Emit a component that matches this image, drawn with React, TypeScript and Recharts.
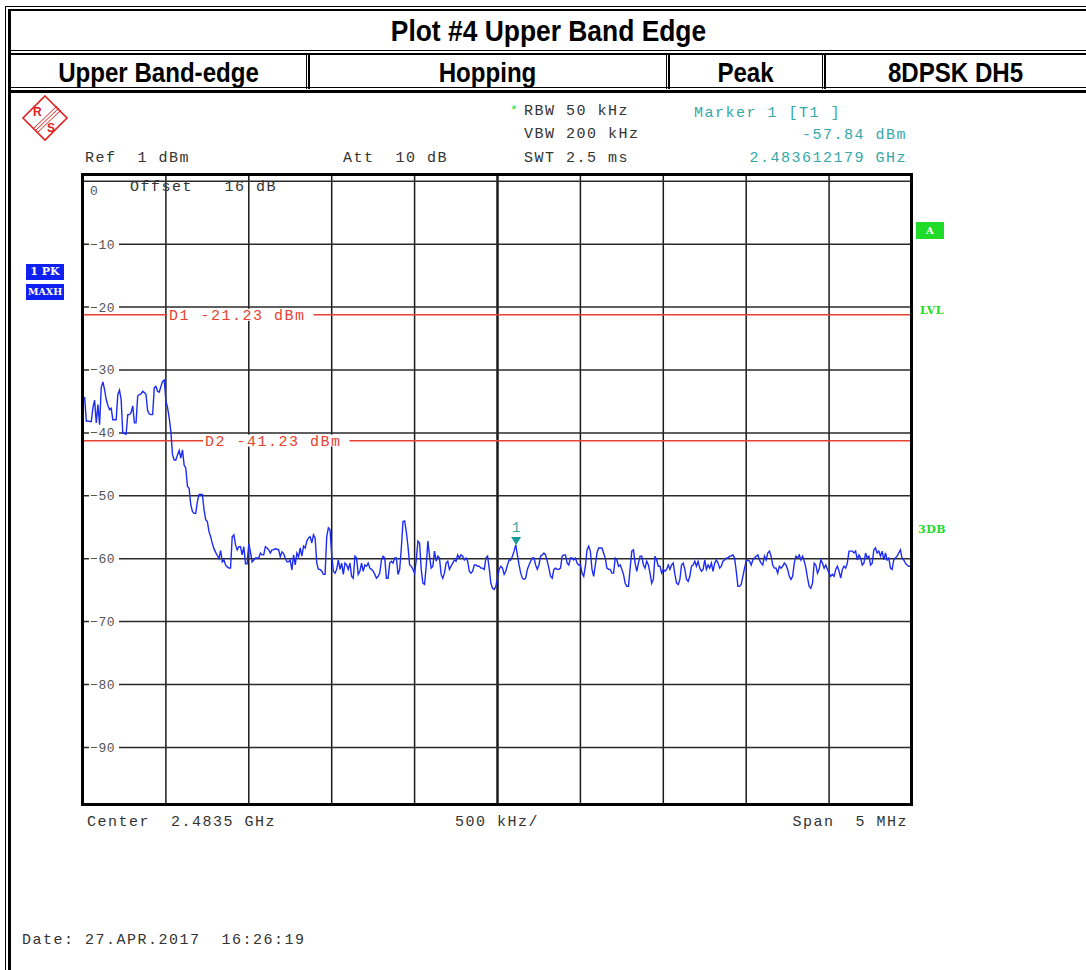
import { LineChart, Line, XAxis, YAxis, ReferenceLine, ReferenceDot } from 'recharts'

// sweep: centre 2.4835 GHz, span 5 MHz, 501 points
const START_MHZ = 2481
const SPAN_MHZ = 5

// trace 1 (PK / MAXH), dBm per sweep point
const levelsDbm = [
  -34.4, -34.4, -38.1, -38.1, -38.2, -38.2, -36, -34.8, -38.4, -35.5,
  -38.7, -32.8, -31.9, -33.1, -34.7, -35.6, -36.3, -36.1, -37.9, -37.9,
  -37.9, -33.9, -33.2, -34.7, -40, -40.1, -40.2, -37.1, -37.1, -36.8,
  -35.7, -38.4, -38.4, -34.1, -33.9, -33.8, -33.4, -33.6, -33.9, -36.5,
  -37, -37.1, -37.1, -32.8, -32.6, -33.4, -33.5, -32.6, -31.8, -31.6,
  -34.9, -36, -37.6, -39.8, -43.5, -44.3, -44.3, -43.5, -42.8, -44,
  -42.7, -45.1, -45.6, -48.5, -48.8, -51.4, -52.5, -52.8, -52.8, -50.9,
  -49.8, -49.8, -49.8, -52.2, -53.8, -54.1, -55.7, -56.5, -57.6, -58.4,
  -59, -59.5, -60, -58.7, -60.5, -60.2, -61, -61.3, -61.5, -61.5,
  -56.5, -56.2, -57.8, -58.6, -58.1, -58.1, -59.4, -58.1, -60.8, -60.8,
  -57.6, -58.9, -60.5, -60.2, -59.9, -59.9, -59.9, -59.1, -59.4, -59.4,
  -58.1, -58.3, -58.6, -59.1, -58.6, -58.6, -58.4, -58.5, -58.6, -59.7,
  -58.9, -59.2, -59.9, -60.5, -60.5, -60.2, -61.8, -59.4, -61, -59.1,
  -59.7,
  -58.3, -59.6, -58, -58.3, -57.2, -56.7, -56.5, -57.5, -56.2, -56.7,
  -60.7, -61.7, -61.7, -62, -62.5, -62.5, -56.5, -55.1, -55.4, -59.4,
  -62, -62.3, -61.7, -60.2, -61.7, -60.7, -62.5, -60.7, -61, -61.7,
  -60.7, -62.8, -63.1, -59.6, -59.9, -62.5, -62, -60.7, -62, -61,
  -61.2, -60.7, -61.5, -61.7, -62, -62.5, -63.1, -62.8, -62.3, -60.2,
  -59.6, -59.9, -63.1, -63.1, -60.7, -60.4, -60.7, -59.9, -59.9, -62.5,
  -61.7, -58.3, -54.1, -54, -55.7, -58, -61, -61.2, -61.7, -62.3,
  -60.2, -57.2, -57.5, -61.7, -63.9, -64.1, -61.2, -57.2, -59.6, -61.5,
  -61.2, -58.8, -60.4, -59.6, -59.9, -62.5, -63.1, -62.3, -60.7, -60.4,
  -61.7, -61.2, -60.7, -60.2, -60.4, -59.4, -59.9, -59.4, -59.6, -60.2,
  -59.9, -60.4, -62, -62.3, -62, -61, -61, -61.2, -61.2, -61.5,
  -61.5, -61.7, -59.9, -59.6, -61.5, -63.9, -64.7, -64.9, -64.4, -63.1,
  -61.7, -61.2, -61.5, -62.5, -62, -61, -60.2, -60.2, -59.6, -58.8,
  -57.8, -59.4, -61, -62.3, -63.1, -63.3, -63.1, -61.7, -61, -60.4,
  -59.9, -59.9, -61, -61.7, -61, -59.6, -59.4, -59.1, -59.4, -60.4,
  -61.5, -62.8, -63.1, -61.7, -61.5, -61.7, -61.7, -61.5, -59.6, -59.4,
  -59.4, -60.7, -61, -59.9, -59.9, -60.2, -59.9, -60.7, -61, -61,
  -62.3, -62.8, -61.2, -58.6, -58, -58.8, -61.7, -62.8, -61, -59.1,
  -58.3,
  -58.3, -58.3, -59.1, -59.9, -61.5, -61.7, -61.7, -62.3, -62.3, -59.9,
  -60.2, -61.2, -61, -61.7, -62.5, -63.9, -64.4, -64.4, -61.5, -58.8,
  -58.6, -60.7, -62, -60.7, -59.6, -59.6, -61, -61.5, -60.4, -61,
  -62.3, -63.9, -63.3, -59.6, -60.2, -61.2, -61.2, -62.3, -61.7, -62,
  -61.7, -61, -61.7, -61, -60.7, -62.5, -63.9, -64.1, -63.3, -61,
  -60.7, -61.7, -63.3, -63.6, -62.8, -61.2, -61, -60.4, -61.2, -60.4,
  -61.5, -62, -61.7, -60.2, -61.7, -61, -61.5, -60.7, -62, -60.7,
  -60.2, -60.7, -61.5, -61.2, -60.4, -60.2, -59.9, -59.9, -59.6, -59.6,
  -59.4, -59.9, -62, -64.4, -64.4, -64.1, -62.8, -61.5, -60.4, -60.2,
  -60.4, -61, -60.2, -59.9, -59.6, -59.4, -60.2, -60.7, -61, -59.6,
  -60.2, -59.1, -58.8, -59.6, -61, -61.5, -61.5, -62.3, -61.2, -61.5,
  -61.2, -60.7, -61, -61.7, -62.8, -63.3, -62.8, -60.7, -59.6, -59.9,
  -59.4, -60.2, -59.6, -60.4, -61.5, -63.1, -64.4, -64.7, -63.9, -60.7,
  -61, -62.3, -61.7, -60.2, -60.7, -61.5, -61, -61.7, -62.3, -62.8,
  -62.5, -62.8, -61.7, -61.2, -62, -63.1, -61.7, -61.2, -61.5, -60.7,
  -58.8, -58.8, -58.8, -59.1, -58.8, -60.2, -59.4, -59.9, -61, -60.7,
  -59.1, -59.9, -59.6, -61, -60.7, -58.6, -58.3, -59.1, -58.8, -59.6,
  -58.8, -60.2, -59.1, -60.2, -59.9, -61.5, -61.7, -60.2, -59.9, -59.6,
  -59.1, -58.6, -59.9, -60.2, -60.7, -61, -61.2, -61.2, -61.5,
]

const freqGridMHz = [2481.5, 2482, 2482.5, 2483, 2483.5, 2484, 2484.5, 2485, 2485.5]
const levelGridDbm = [0, -10, -20, -30, -40, -50, -60, -70, -80, -90]

const displayLineNames = ['D1', 'D2']
const displayLineDbm = [-21.23, -41.23]

const markerFreqMHz = 2483.612179
const markerLevelDbm = -57.84

const data = levelsDbm.map((level, i) => ({
  f: START_MHZ + (i * SPAN_MHZ) / (levelsDbm.length - 1),
  level,
}))

const MONO = '"Liberation Mono", "Courier New", monospace'
const NARROW = '"Liberation Sans Narrow", "Liberation Sans", Arial, sans-serif'
const RED = '#e8412f'
const TEAL = '#35a8a8'
const GREEN = '#1fdc2a'

const GridLabel = ({ viewBox, text, dy }: any) => {
  const { x, y } = viewBox
  return (
    <g>
      <rect x={x + 6} y={y + dy - 6} width={text.length * 9 + 3} height={12} fill="#fff" />
      <text x={x + 7} y={y + dy + 4.5} fontFamily={MONO} fontSize={13} letterSpacing={0.6} fill="#555">
        {text}
      </text>
    </g>
  )
}

const DisplayLabel = ({ viewBox, text, shift }: any) => {
  const { x, y } = viewBox
  const w = text.length * 10.5 + 10
  return (
    <g>
      <rect x={x + shift - 2} y={y - 6} width={w} height={12} fill="#fff" />
      <text x={x + shift} y={y + 5} fontFamily={MONO} fontSize={15} letterSpacing={1.5} fill={RED}>
        {text}
      </text>
    </g>
  )
}

const MarkerShape = ({ cx, cy }: any) => (
  <g>
    <path d={`M${cx - 5},${cy - 8} L${cx + 5},${cy - 8} L${cx},${cy} Z`} fill="#179a9a" />
    <text x={cx} y={cy - 13} textAnchor="middle" fontFamily={MONO} fontSize={14} fill={TEAL}>
      1
    </text>
  </g>
)

const T = ({ x, y, children, color = '#333', right, size = 15 }: any) => (
  <div
    style={{
      position: 'absolute',
      top: y,
      ...(right !== undefined ? { right: 1086 - right } : { left: x }),
      fontFamily: MONO,
      fontSize: size,
      letterSpacing: 1.5,
      lineHeight: '16px',
      whiteSpace: 'pre',
      color,
    }}
  >
    {children}
  </div>
)

const Box = ({ l, t, w, h, bg = '#000' }: any) => (
  <div style={{ position: 'absolute', left: l, top: t, width: w, height: h, background: bg }} />
)

const H = ({ l, r, y, children, size = 28, sx = 0.86 }: any) => (
  <div
    style={{
      position: 'absolute',
      left: l,
      width: r - l,
      top: y,
      textAlign: 'center',
      fontFamily: NARROW,
      fontWeight: 'bold',
      fontSize: size,
      lineHeight: '30px',
      color: '#000',
      transform: `scaleX(${sx})`,
    }}
  >
    {children}
  </div>
)

const Tag = ({ l, t, w, h, bg, color = '#fff', children, size = 10, ls = 0 }: any) => (
  <div
    style={{
      position: 'absolute',
      left: l,
      top: t,
      width: w,
      height: h,
      background: bg,
      color,
      fontFamily: '"DejaVu Serif", "Liberation Serif", serif',
      fontWeight: 'bold',
      fontSize: size,
      letterSpacing: ls,
      lineHeight: `${h}px`,
      textAlign: 'center',
    }}
  >
    {children}
  </div>
)

export default function App() {
  return (
    <div style={{ position: 'absolute', left: 0, top: 0, width: 1086, height: 970, overflow: 'hidden', background: '#fff' }}>
      {/* report frame */}
      <Box l={5} t={6} w={1} h={970} />
      <Box l={8} t={9} w={3} h={970} />
      <Box l={5} t={6} w={1090} h={1} />
      <Box l={8} t={9} w={1090} h={2} />
      <Box l={8} t={50} w={1090} h={1} />
      <Box l={8} t={53} w={1090} h={2} />
      <Box l={8} t={87} w={1090} h={1} />
      <Box l={8} t={90} w={1090} h={3} />
      {[306, 666, 822].map((x) => (
        <div key={x}>
          <Box l={x} t={53} w={1} h={36} />
          <Box l={x + 2} t={53} w={2} h={36} />
        </div>
      ))}
      <H l={11} r={1086} y={16} size={30} sx={0.88}>Plot #4 Upper Band Edge</H>
      <H l={11} r={306} y={58}>Upper Band-edge</H>
      <H l={309} r={666} y={58}>Hopping</H>
      <H l={669} r={822} y={58}>Peak</H>
      <H l={825} r={1086} y={58}>8DPSK DH5</H>

      {/* R&S logo */}
      <svg style={{ position: 'absolute', left: 20, top: 94 }} width={50} height={48}>
        <polygon points="25,2 47,24 25,46 3,24" fill="none" stroke="#e02020" strokeWidth={1.6} />
        <line x1={13} y1={35} x2={37} y2={12} stroke="#e02020" strokeWidth={1} />
        <line x1={15} y1={37} x2={39} y2={14} stroke="#e02020" strokeWidth={1} />
        <line x1={17} y1={39} x2={41} y2={16} stroke="#e02020" strokeWidth={1} />
        <text x={13} y={22} fontFamily="Liberation Sans" fontWeight="bold" fontSize={12} fill="#e02020">R</text>
        <text x={27} y={38} fontFamily="Liberation Sans" fontWeight="bold" fontSize={12} fill="#e02020">S</text>
      </svg>

      {/* instrument settings */}
      <T x={85} y={151}>{'Ref  1 dBm'}</T>
      <T x={343} y={151}>{'Att  10 dB'}</T>
      <T x={510} y={103} color={GREEN} size={13}>*</T>
      <T x={524} y={104}>{'RBW 50 kHz'}</T>
      <T x={524} y={127}>{'VBW 200 kHz'}</T>
      <T x={524} y={151}>{'SWT 2.5 ms'}</T>
      <T x={694} y={106} color={TEAL}>{'Marker 1 [T1 ]'}</T>
      <T right={907} y={128} color={TEAL}>{'-57.84 dBm'}</T>
      <T right={907} y={151} color={TEAL}>{'2.483612179 GHz'}</T>
      <T x={87} y={815}>{'Center  2.4835 GHz'}</T>
      <T x={455} y={815}>{'500 kHz/'}</T>
      <T right={908} y={815}>{'Span  5 MHz'}</T>
      <T x={22} y={933}>{'Date: 27.APR.2017  16:26:19'}</T>

      <Tag l={26} t={264} w={38} h={16} bg="#1020f0" size={11}>1 PK</Tag>
      <Tag l={26} t={284} w={38} h={16} bg="#1020f0" size={9.5}>MAXH</Tag>
      <Tag l={916} t={222} w={28} h={17} bg={GREEN} size={10}>A</Tag>
      <Tag l={914} t={304} w={36} h={14} bg="transparent" color={GREEN} size={11} ls={0.5}>LVL</Tag>
      <Tag l={914} t={523} w={36} h={14} bg="transparent" color={GREEN} size={11} ls={0.5}>3DB</Tag>

      <div style={{ position: 'absolute', left: 0, top: 0 }}>
        <LineChart width={1086} height={970} data={data} margin={{ top: 175, left: 83, right: 174, bottom: 166 }}>
          <XAxis dataKey="f" type="number" domain={[START_MHZ, START_MHZ + SPAN_MHZ]} hide />
          <YAxis type="number" domain={[-99, 1]} hide />
          {freqGridMHz.map((f) => (
            <ReferenceLine
              key={`v${f}`}
              x={f}
              stroke="#1a1a1a"
              strokeWidth={f === 2483.5 ? 2.5 : 1.5}
            />
          ))}
          {levelGridDbm.map((v) => (
            <ReferenceLine
              key={`h${v}`}
              y={v}
              stroke="#2a2a2a"
              strokeWidth={1.5}
              label={<GridLabel text={String(v).replace('-', '\u2212')} dy={v === 0 ? 9 : 0} />}
            />
          ))}
          {displayLineDbm.map((v, i) => (
            <ReferenceLine
              key={displayLineNames[i]}
              y={v}
              stroke={RED}
              strokeWidth={1.5}
              label={<DisplayLabel text={`${displayLineNames[i]} ${v.toFixed(2)} dBm`} shift={i === 0 ? 86 : 122} />}
            />
          ))}
          <Line
            type="linear"
            dataKey="level"
            stroke="#1d2cf2"
            strokeWidth={1.4}
            dot={false}
            isAnimationActive={false}
          />
          <ReferenceDot x={markerFreqMHz} y={markerLevelDbm} shape={(p: any) => <MarkerShape {...p} />} />
        </LineChart>
      </div>

      {/* plot frame */}
      <Box l={81} t={173} w={3} h={633} />
      <Box l={81} t={173} w={832} h={3} />
      <Box l={81} t={803} w={832} h={3} />
      <Box l={910} t={173} w={3} h={633} />
      <T x={130} y={180}>{'Offset   16 dB'}</T>
    </div>
  )
}
